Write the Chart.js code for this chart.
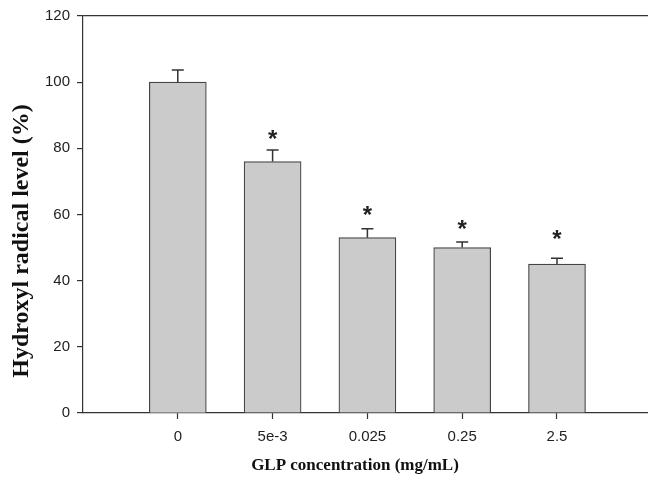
<!DOCTYPE html>
<html>
<head>
    <title>Hydroxyl radical level vs GLP concentration</title>
    <script src="https://cdn.jsdelivr.net/npm/chart.js"></script>
    <style>
        html, body {
            margin: 0;
            padding: 0;
            background: #ffffff;
            overflow: hidden;
        }
        #wrap {
            width: 648px;
            height: 481px;
        }
    </style>
</head>
<body>
    <div id="wrap"><canvas id="chart"></canvas></div>

<script>
        // Data
        const concLabels = ['0', '5e-3', '0.025', '0.25', '2.5'];
        const radicalLevel = [100, 76, 53, 50, 45];
        const radicalErr = [3.7, 3.5, 2.7, 1.7, 1.8];
        // height (in % units) where the significance star sits, null = none
        const starLevel = [null, 84, 61, 56.6, 53.8];

        const xTitle = 'GLP concentration (mg/mL)';
        const yTitle = 'Hydroxyl radical level (%)';

        const axisColor = '#333333';

        // error bars (upper only) + significance stars
        const errorBarPlugin = {
            id: 'errorBars',
            afterDatasetsDraw(chart) {
                const ctx = chart.ctx;
                const xs = chart.scales.x, ys = chart.scales.y;
                ctx.save();
                ctx.strokeStyle = axisColor;
                ctx.lineWidth = 1.5;
                radicalLevel.forEach((v, i) => {
                    const x = xs.getPixelForValue(i);
                    const yBase = ys.getPixelForValue(v);
                    const yTop = ys.getPixelForValue(v + radicalErr[i]);
                    ctx.beginPath();
                    ctx.moveTo(x, yBase);
                    ctx.lineTo(x, yTop);
                    ctx.moveTo(x - 6, yTop);
                    ctx.lineTo(x + 6, yTop);
                    ctx.stroke();
                });
                ctx.fillStyle = '#222';
                ctx.font = 'bold 24px "Liberation Sans", Arial, sans-serif';
                ctx.textAlign = 'center';
                ctx.textBaseline = 'middle';
                starLevel.forEach((s, i) => {
                    if (s === null) return;
                    ctx.fillText('*', xs.getPixelForValue(i), ys.getPixelForValue(s) + 5);
                });
                ctx.restore();
            }
        };

        // axis titles placed like the original figure
        const axisTitlePlugin = {
            id: 'axisTitles',
            afterDraw(chart) {
                const ctx = chart.ctx;
                ctx.save();
                ctx.fillStyle = '#111';
                ctx.textAlign = 'center';
                ctx.textBaseline = 'middle';
                ctx.font = 'bold 17px "Liberation Serif", "Times New Roman", serif';
                ctx.fillText(xTitle, 355, 466);
                ctx.translate(22, 241);
                ctx.rotate(-Math.PI / 2);
                ctx.font = 'bold 24px "Liberation Serif", "Times New Roman", serif';
                ctx.fillText(yTitle, 0, 0);
                ctx.restore();
            }
        };

        const ctx = document.getElementById('chart').getContext('2d');
        const chart = new Chart(ctx, {
            type: 'bar',
            data: {
                datasets: [{
                    data: radicalLevel.map((v, i) => ({ x: i, y: v })),
                    backgroundColor: '#cbcbcb',
                    borderColor: '#444444',
                    borderWidth: 1.2,
                    barThickness: 57
                }]
            },
            options: {
                responsive: true,
                maintainAspectRatio: false,
                animation: false,
                layout: { padding: { top: 16, right: 0, left: 0, bottom: 0 } },
                plugins: {
                    legend: { display: false },
                    tooltip: { enabled: false }
                },
                scales: {
                    x: {
                        type: 'linear',
                        offset: false,
                        min: -1,
                        max: 4.96,
                        afterFit(scale) { scale.height = 68; },
                        afterBuildTicks(scale) {
                            scale.ticks = concLabels.map((_, i) => ({ value: i }));
                        },
                        border: { color: axisColor, width: 1.2 },
                        grid: {
                            offset: false,
                            drawOnChartArea: false,
                            tickLength: 6,
                            tickColor: axisColor,
                            tickWidth: 1.2
                        },
                        ticks: {
                            padding: 9,
                            color: '#222',
                            font: { family: '"Liberation Sans", Arial, sans-serif', size: 15 },
                            maxRotation: 0,
                            callback: (v) => concLabels[v]
                        }
                    },
                    y: {
                        min: 0,
                        max: 120,
                        afterFit(scale) { scale.width = 83; },
                        border: { color: axisColor, width: 1.2 },
                        grid: {
                            color: (c) => (c.tick && c.tick.value === 120) ? axisColor : 'rgba(0,0,0,0)',
                            lineWidth: 1.2,
                            tickLength: 6,
                            tickColor: axisColor,
                            tickWidth: 1.2
                        },
                        ticks: {
                            stepSize: 20,
                            padding: 7,
                            color: '#222',
                            font: { family: '"Liberation Sans", Arial, sans-serif', size: 15 }
                        }
                    }
                }
            },
            plugins: [errorBarPlugin, axisTitlePlugin]
        });
    </script>
</body>
</html>
